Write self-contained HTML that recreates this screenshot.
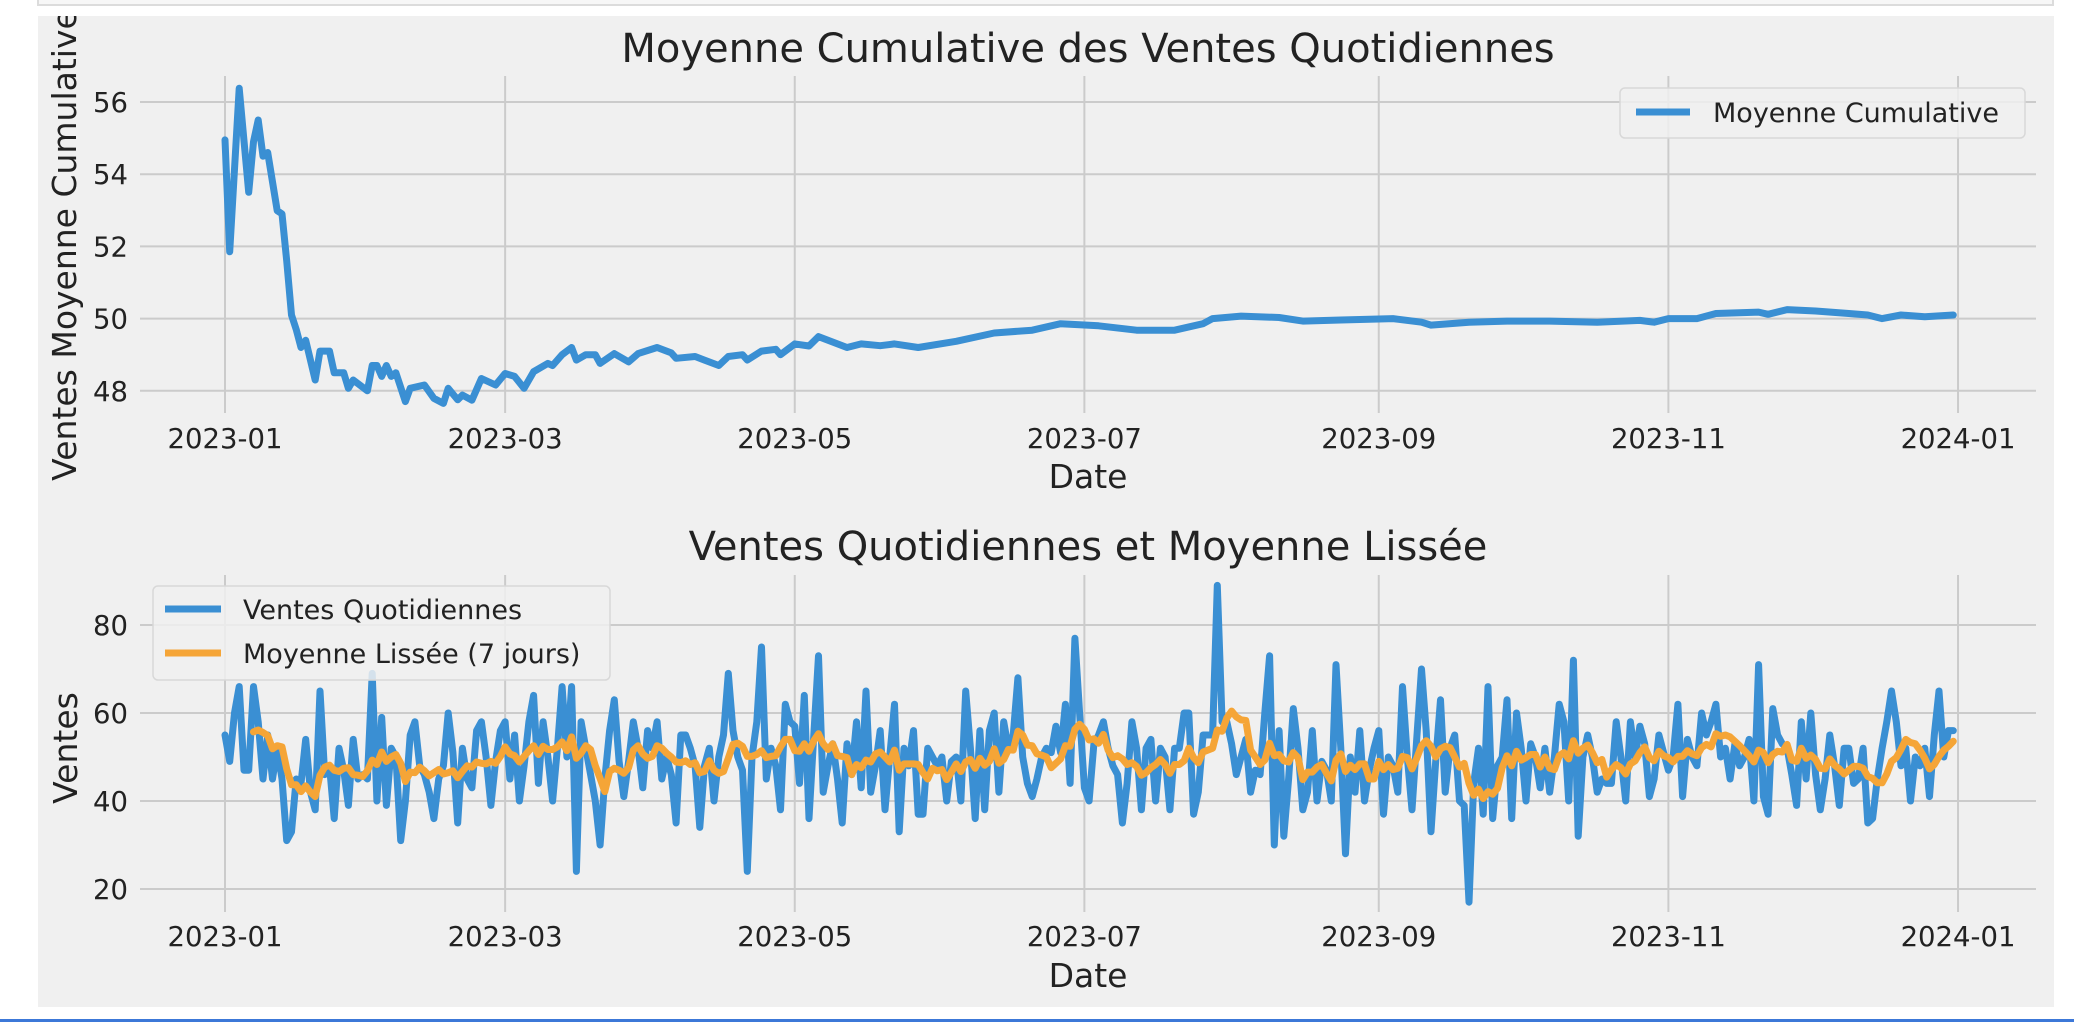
<!DOCTYPE html>
<html><head><meta charset="utf-8">
<style>
html,body{margin:0;padding:0;background:#fff;width:2074px;height:1032px;overflow:hidden}
svg{display:block}
text{font-family:"DejaVu Sans","Liberation Sans",sans-serif;fill:#222}
</style></head>
<body>
<svg id="fig" width="2074" height="1032" viewBox="0 0 2074 1032">
  <rect x="38" y="-2" width="2015" height="7" fill="#f7f7f7" stroke="#dcdcdc" stroke-width="2"/>
  <defs><clipPath id="figclip"><rect x="38" y="16" width="2016" height="991"/></clipPath></defs>
  <rect x="38" y="16" width="2016" height="991" fill="#f0f0f0"/>
  <rect x="0" y="1019" width="2074" height="3" fill="#3c78d8"/>
  <g id="topChart" clip-path="url(#figclip)"></g>
  <g id="botChart" clip-path="url(#figclip)"></g>
</svg>
<script>
// ---- data ----
const xTickLabels = ["2023-01","2023-03","2023-05","2023-07","2023-09","2023-11","2024-01"];
const xTickDays = [0,59,120,181,243,304,365];
const topYTicks = [48,50,52,54,56];
const botYTicks = [20,40,60,80];
const cumDays = [0,1,3,5,6,7,8,9,11,12,13,14,15,16,17,19,20,22,23,25,26,27,30,31,32,33,34,35,36,38,39,42,44,46,47,49,50,52,54,57,59,61,63,65,68,69,71,73,74,76,78,79,82,85,87,91,94,95,99,101,104,106,109,110,113,116,117,120,123,125,127,131,134,138,141,146,154,162,170,176,184,192,200,206,208,214,222,227,235,246,252,254,262,270,279,289,298,301,304,310,314,323,325,329,335,342,346,349,353,358,364];
const cumValues = [54.95,51.85,56.38,53.5,54.9,55.5,54.5,54.6,52.99,52.9,51.6,50.1,49.7,49.2,49.4,48.3,49.1,49.1,48.5,48.5,48.07,48.3,48.0,48.7,48.7,48.4,48.7,48.4,48.5,47.7,48.07,48.16,47.79,47.65,48.07,47.75,47.88,47.74,48.34,48.16,48.48,48.4,48.07,48.53,48.76,48.7,49.0,49.2,48.85,49.0,49.0,48.76,49.03,48.8,49.03,49.2,49.05,48.9,48.95,48.85,48.7,48.95,49.0,48.85,49.1,49.15,49.0,49.3,49.24,49.5,49.4,49.2,49.3,49.25,49.3,49.2,49.37,49.6,49.68,49.86,49.8,49.68,49.68,49.86,50.0,50.07,50.03,49.93,49.96,50.0,49.9,49.82,49.9,49.93,49.93,49.9,49.95,49.9,50.0,50.0,50.14,50.18,50.12,50.25,50.21,50.14,50.1,50.0,50.1,50.05,50.1];
const dailySales = [
55,49,60,66,47,47,66,58,45,55,45,52,45,31,33,45,44,54,42,38,
65,46,48,36,52,47,39,54,45,46,45,69,40,59,39,52,50,31,40,55,
58,48,46,42,36,45,48,60,51,35,52,45,43,56,58,50,39,49,56,58,
45,55,40,48,58,64,44,58,50,40,52,66,50,66,24,58,52,46,40,30,
45,56,63,49,41,49,58,52,43,56,52,58,45,50,46,35,55,55,52,48,
34,48,52,40,50,55,69,56,50,47,24,50,58,75,45,52,48,38,62,58,
57,44,64,36,55,73,42,48,53,45,35,53,46,58,43,65,42,48,56,38,
50,62,33,52,48,56,37,37,52,50,48,50,40,49,50,40,65,52,36,56,
38,56,60,42,58,52,55,68,50,44,41,45,50,52,51,57,51,62,44,77,
60,43,40,53,55,58,52,48,46,35,44,58,52,38,52,54,40,52,50,38,
52,52,60,60,37,42,55,55,55,89,58,58,53,46,50,54,42,47,46,60,
73,30,56,32,45,61,52,38,42,56,40,49,47,40,71,52,28,50,42,56,
40,47,52,56,37,50,48,42,66,50,38,54,70,56,33,49,63,42,52,55,
40,39,17,44,52,37,66,36,48,50,63,36,60,52,40,53,50,43,52,42,
50,62,58,40,72,32,50,55,50,42,45,44,44,58,50,40,58,50,57,53,
41,45,55,51,47,50,62,41,54,50,48,60,55,58,62,50,52,45,53,48,
50,54,40,71,41,37,61,55,53,52,46,39,58,45,60,46,38,45,55,48,
39,52,52,44,45,52,35,36,45,52,58,65,58,48,52,40,50,48,52,41,
55,65,50,56,56];
const rollingWindow = 7;

// ---- layout ----
const NS = "http://www.w3.org/2000/svg";
const AX = {left:140, right:2036};
const day0X = 225, pxPerDay = 4.748;
const xScale = d => day0X + d * pxPerDay;
const topArea = {top:76, bottom:413};
const botArea = {top:575, bottom:912};
const topY = v => 102 + (56 - v) * 36.1;
const botY = v => 625 + (80 - v) * 4.4;
const LW = 7;

function mk(parent, tag, attrs, text){
  const el = document.createElementNS(NS, tag);
  for (const k in attrs) el.setAttribute(k, attrs[k]);
  if (text !== undefined) el.textContent = text;
  parent.appendChild(el);
  return el;
}

function drawAxes(g, area, yTicks, yFn, prefix, tickBaseline, dateBaseline){
  xTickDays.forEach((d, i) => {
    const x = xScale(d);
    const gl = mk(g, "line", {x1:x, x2:x, y1:area.top, y2:area.bottom, stroke:"#cbcbcb", "stroke-width":2});
    
    
    const t = mk(g, "text", {x:x, y:tickBaseline, "text-anchor":"middle", "font-size":27.5}, xTickLabels[i]);
    
    
  });
  yTicks.forEach(v => {
    const y = yFn(v);
    const gl = mk(g, "line", {x1:AX.left, x2:AX.right, y1:y, y2:y, stroke:"#cbcbcb", "stroke-width":2});
    
    
    const t = mk(g, "text", {x:128, y:y + 10, "text-anchor":"end", "font-size":27.5}, String(v));
    
    
  });
  const dl = mk(g, "text", {x:1088, y:dateBaseline, "text-anchor":"middle", "font-size":33}, "Date");
  
  
}

function pathFrom(xs, ys){
  const n = Math.min(xs.length, ys.length);
  let d = "";
  for (let i = 0; i < n; i++) d += (i ? "L" : "M") + xs[i].toFixed(1) + "," + ys[i].toFixed(1);
  return d;
}

// ---- top chart ----
const topG = document.getElementById("topChart");
drawAxes(topG, topArea, topYTicks, topY, "top", 448, 488);
const tt = mk(topG, "text", {x:1088, y:62, "text-anchor":"middle", "font-size":40}, "Moyenne Cumulative des Ventes Quotidiennes");


const tyl = mk(topG, "text", {x:0, y:0, "text-anchor":"middle", "font-size":33, transform:"translate(76,245) rotate(-90)"}, "Ventes Moyenne Cumulative");


const cumPath = mk(topG, "path", {d:pathFrom(cumDays.map(xScale), cumValues.map(topY)), fill:"none", stroke:"#3a8fd3", "stroke-width":LW, "stroke-linejoin":"round", "stroke-linecap":"round"});


const tl = mk(topG, "g", {});


mk(tl, "rect", {x:1620, y:88, width:405, height:50, rx:5, fill:"#f0f0f0", "fill-opacity":0.85, stroke:"#d8d8d8", "stroke-width":1.5});
const th = mk(tl, "line", {x1:1636, x2:1690, y1:112, y2:112, stroke:"#3a8fd3", "stroke-width":LW});


const tlt = mk(tl, "text", {x:1713, y:122, "font-size":27}, "Moyenne Cumulative");



// ---- bottom chart ----
const botG = document.getElementById("botChart");
drawAxes(botG, botArea, botYTicks, botY, "bottom", 946, 987);
const bt = mk(botG, "text", {x:1088, y:560, "text-anchor":"middle", "font-size":40}, "Ventes Quotidiennes et Moyenne Lissée");


const byl = mk(botG, "text", {x:0, y:0, "text-anchor":"middle", "font-size":33, transform:"translate(77,748) rotate(-90)"}, "Ventes");



const days = dailySales.map((v, i) => i);
const salesPath = mk(botG, "path", {d:pathFrom(days.map(xScale), dailySales.map(botY)), fill:"none", stroke:"#3a8fd3", "stroke-width":LW, "stroke-linejoin":"round", "stroke-linecap":"round"});



const rollDays = [], rollVals = [];
for (let i = rollingWindow - 1; i < dailySales.length; i++){
  let s = 0;
  for (let j = i - rollingWindow + 1; j <= i; j++) s += dailySales[j];
  rollDays.push(i); rollVals.push(s / rollingWindow);
}
const rollPath = mk(botG, "path", {d:pathFrom(rollDays.map(xScale), rollVals.map(botY)), fill:"none", stroke:"#f5a537", "stroke-width":LW, "stroke-linejoin":"round", "stroke-linecap":"round"});



const bl = mk(botG, "g", {});


mk(bl, "rect", {x:153, y:586, width:457, height:94, rx:5, fill:"#f0f0f0", "fill-opacity":0.85, stroke:"#d8d8d8", "stroke-width":1.5});
const bh1 = mk(bl, "line", {x1:165, x2:221, y1:609, y2:609, stroke:"#3a8fd3", "stroke-width":LW});


const bt1 = mk(bl, "text", {x:243, y:619, "font-size":27}, "Ventes Quotidiennes");


const bh2 = mk(bl, "line", {x1:165, x2:221, y1:653, y2:653, stroke:"#f5a537", "stroke-width":LW});


const bt2 = mk(bl, "text", {x:243, y:663, "font-size":27}, "Moyenne Lissée (7 jours)");


</script>
</body></html>
